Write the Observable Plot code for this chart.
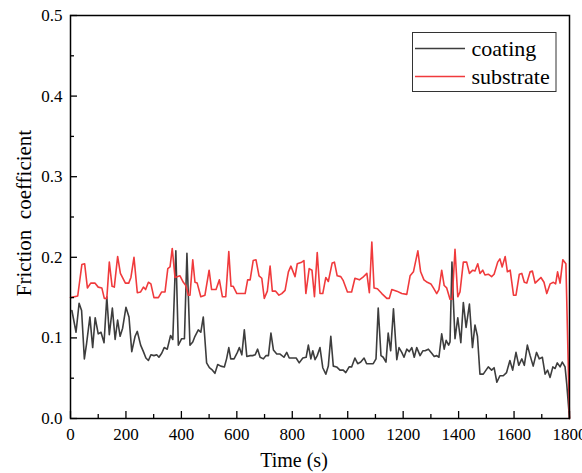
<!DOCTYPE html>
<html><head><meta charset="utf-8">
<script src="https://cdn.jsdelivr.net/npm/d3@7"></script>
<script src="https://cdn.jsdelivr.net/npm/@observablehq/plot@0.6"></script>
<style>
html,body{margin:0;padding:0;background:#fff;overflow:hidden}
#chart{position:relative;width:582px;height:473px}
</style></head><body><div id="chart"></div>
<script>
const seriesNames = ["coating", "substrate"];
const seriesColors = ["#3d3d3d", "#f03a3c"];

const coatingTime = [5,20,31,40,50,58,70,80,89,100,110,121,131,140,151,161,170,179,188,200,211,221,233,241,253,263,272,281,290,301,311,319,329,338,349,361,369,380,389,401,411,420,431,441,449,461,470,479,491,501,512,521,531,542,555,563,571,578,590,602,609,618,627,636,648,657,666,675,684,696,705,714,723,732,744,756,770,780,789,802,814,825,838,850,858,867,874,882,890,900,910,921,930,939,948,960,972,984,993,1005,1014,1026,1036,1047,1059,1068,1080,1092,1102,1110,1120,1128,1138,1146,1155,1165,1177,1185,1195,1203,1213,1222,1231,1240,1249,1261,1271,1279,1291,1303,1312,1321,1329,1339,1348,1355,1364,1369,1376,1381,1387,1397,1408,1417,1427,1439,1450,1459,1468,1477,1489,1507,1519,1528,1538,1549,1561,1573,1585,1595,1607,1617,1628,1637,1648,1658,1669,1681,1691,1702,1712,1721,1730,1740,1748,1756,1766,1774,1784,1790,1800];
const coatingValue = [0.134,0.107,0.143,0.134,0.074,0.093,0.126,0.088,0.125,0.105,0.107,0.094,0.151,0.104,0.137,0.098,0.122,0.102,0.112,0.138,0.126,0.083,0.102,0.108,0.091,0.083,0.075,0.072,0.079,0.078,0.079,0.076,0.081,0.088,0.086,0.103,0.098,0.208,0.091,0.099,0.099,0.205,0.091,0.095,0.102,0.110,0.107,0.126,0.069,0.063,0.060,0.056,0.067,0.065,0.064,0.074,0.088,0.074,0.074,0.082,0.088,0.079,0.110,0.077,0.078,0.078,0.079,0.086,0.076,0.074,0.078,0.078,0.106,0.085,0.080,0.080,0.076,0.082,0.075,0.075,0.075,0.069,0.075,0.076,0.091,0.074,0.084,0.073,0.078,0.088,0.063,0.055,0.065,0.102,0.065,0.064,0.060,0.060,0.057,0.064,0.064,0.075,0.068,0.070,0.075,0.068,0.068,0.068,0.074,0.137,0.078,0.076,0.070,0.106,0.084,0.136,0.073,0.088,0.082,0.076,0.086,0.083,0.088,0.076,0.088,0.078,0.084,0.084,0.086,0.081,0.077,0.078,0.076,0.105,0.086,0.097,0.091,0.095,0.194,0.146,0.099,0.125,0.094,0.144,0.113,0.142,0.088,0.116,0.102,0.055,0.055,0.064,0.060,0.063,0.045,0.053,0.053,0.057,0.072,0.060,0.082,0.066,0.074,0.066,0.091,0.078,0.065,0.082,0.074,0.076,0.055,0.060,0.051,0.064,0.062,0.069,0.064,0.070,0.064,0.043,0.0];

const substrateTime = [0,26,41,51,61,73,88,100,113,122,131,140,150,158,170,180,198,210,218,229,241,253,263,271,281,290,301,317,329,341,351,359,367,377,395,407,416,425,431,441,449,457,470,485,500,509,525,537,548,560,571,579,587,600,630,639,648,659,669,680,690,699,710,720,728,740,752,762,774,786,795,810,818,834,842,849,861,871,880,890,900,910,921,930,944,952,962,975,984,999,1014,1026,1042,1054,1069,1078,1087,1095,1107,1123,1141,1150,1159,1177,1195,1213,1225,1237,1253,1263,1275,1287,1300,1309,1321,1329,1339,1348,1357,1369,1377,1387,1397,1405,1417,1429,1439,1451,1459,1469,1477,1487,1495,1507,1519,1528,1541,1549,1557,1568,1576,1586,1598,1607,1619,1628,1637,1646,1658,1666,1676,1688,1697,1708,1718,1730,1742,1750,1757,1766,1776,1787,1800];
const substrateValue = [0.150,0.152,0.191,0.192,0.162,0.168,0.168,0.163,0.162,0.149,0.149,0.194,0.164,0.163,0.201,0.180,0.168,0.168,0.175,0.200,0.156,0.157,0.163,0.160,0.169,0.167,0.150,0.150,0.157,0.157,0.186,0.188,0.211,0.175,0.177,0.169,0.165,0.153,0.153,0.197,0.169,0.168,0.151,0.153,0.184,0.160,0.160,0.172,0.151,0.151,0.207,0.164,0.164,0.155,0.155,0.172,0.172,0.196,0.197,0.177,0.174,0.149,0.158,0.189,0.158,0.158,0.153,0.155,0.159,0.182,0.189,0.176,0.192,0.194,0.196,0.155,0.186,0.184,0.151,0.206,0.155,0.155,0.175,0.170,0.193,0.194,0.177,0.176,0.171,0.157,0.157,0.174,0.172,0.175,0.180,0.156,0.219,0.162,0.161,0.155,0.149,0.149,0.160,0.158,0.155,0.154,0.177,0.182,0.208,0.182,0.172,0.169,0.167,0.162,0.155,0.160,0.184,0.165,0.162,0.148,0.148,0.210,0.151,0.157,0.194,0.194,0.180,0.184,0.183,0.192,0.180,0.184,0.178,0.179,0.176,0.179,0.194,0.198,0.188,0.201,0.182,0.184,0.153,0.153,0.179,0.180,0.169,0.168,0.182,0.183,0.168,0.172,0.175,0.169,0.155,0.167,0.169,0.167,0.182,0.168,0.197,0.192,0.0];

const xTicks = [0,200,400,600,800,1000,1200,1400,1600,1800];
const xMinorTicks = [100,300,500,700,900,1100,1300,1500,1700];
const yTicks = [0.0,0.1,0.2,0.3,0.4,0.5];
const yMinorTicks = [0.05,0.15,0.25,0.35,0.45];
const xLabel = "Time (s)";
const yLabel = "Friction  coefficient";

const coating = coatingTime.map((t, i) => ({t, v: coatingValue[i]}));
const substrate = substrateTime.map((t, i) => ({t, v: substrateValue[i]}));

const W = 582, H = 473, mL = 70, mR = 13, mT = 15, mB = 55;
const pw = W - mL - mR, ph = H - mT - mB;
const serif = "Liberation Serif, Times New Roman, serif";

const plot = Plot.plot({
  width: W, height: H,
  marginLeft: mL, marginRight: mR, marginTop: mT, marginBottom: mB,
  x: {domain: [0, 1800]},
  y: {domain: [0, 0.5]},
  style: {fontSize: "17px", color: "#000", background: "#fff"},
  marks: [
    Plot.line(coating, {x: "t", y: "v", stroke: seriesColors[0], strokeWidth: 1.6}),
    Plot.line(substrate, {x: "t", y: "v", stroke: seriesColors[1], strokeWidth: 1.6}),
    Plot.tickX(xTicks, {x: d => d, insetTop: ph - 7, stroke: "#000", strokeWidth: 1.3}),
    Plot.tickX(xMinorTicks, {x: d => d, insetTop: ph - 4, stroke: "#000", strokeWidth: 1.3}),
    Plot.tickY(yTicks, {y: d => d, insetRight: pw - 7, stroke: "#000", strokeWidth: 1.3}),
    Plot.tickY(yMinorTicks, {y: d => d, insetRight: pw - 4, stroke: "#000", strokeWidth: 1.3}),
    Plot.frame({stroke: "#000", strokeWidth: 1.5}),
    Plot.axisX({ticks: xTicks, tickSize: 0, tickPadding: 9, label: null, fontSize: 17, tickFormat: d => String(d), fill: "#000"}),
    Plot.axisY({ticks: yTicks, tickSize: 0, tickPadding: 8, tickFormat: d3.format(".1f"), label: null, fontSize: 17, fill: "#000"})
  ]
});
document.getElementById("chart").appendChild(plot);

const svg = d3.select(plot);
svg.append("text").attr("x", 294).attr("y", 467).attr("text-anchor", "middle")
  .attr("font-size", 20).attr("fill", "#000").text(xLabel);
svg.append("text").attr("transform", "translate(31,213) rotate(-90)").attr("text-anchor", "middle")
  .attr("font-size", 21).attr("fill", "#000")
  .style("white-space", "pre").text(yLabel);

const lg = svg.append("g").attr("font-size", 22).attr("text-anchor", "start");
lg.append("rect").attr("x", 412.5).attr("y", 32.5).attr("width", 143.5).attr("height", 59)
  .attr("fill", "#fff").attr("stroke", "#333").attr("stroke-width", 1);
seriesNames.forEach((name, i) => {
  const y = 48.5 + i * 28;
  lg.append("line").attr("x1", 415).attr("x2", 465).attr("y1", y).attr("y2", y)
    .attr("stroke", seriesColors[i]).attr("stroke-width", 1.6);
  lg.append("text").attr("x", 471.5).attr("y", y + 7.5).attr("text-anchor", "start").attr("fill", "#000").text(name);
});

svg.selectAll("text").attr("font-family", serif).style("font-family", serif);
svg.attr("font-family", serif).style("font-family", serif);
</script></body></html>
